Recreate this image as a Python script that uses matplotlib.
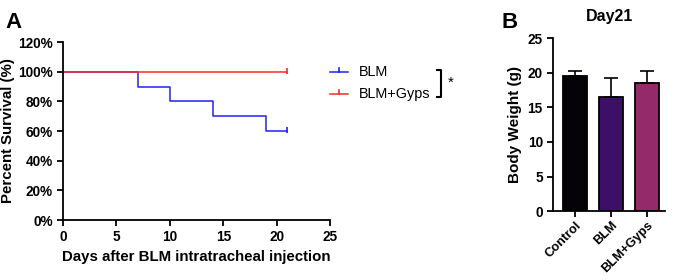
import matplotlib
matplotlib.use("Agg")
import matplotlib.pyplot as plt
from matplotlib.ticker import FuncFormatter

plt.rcParams['font.family'] = ['Liberation Sans', 'DejaVu Sans']

# survival data (Kaplan-Meier steps)
blm_days = [0, 7, 10, 14, 19, 21]
blm_surv = [100, 90, 80, 70, 60, 60]
gyps_days = [0, 21]
gyps_surv = [100, 100]

# body weight at day 21
groups = ['Control', 'BLM', 'BLM+Gyps']
weight = [19.5, 16.5, 18.5]
weight_err = [0.7, 2.8, 1.8]
bar_colors = ['#050308', '#3d0f66', '#952a6a']

fig = plt.figure(figsize=(6.78, 2.8), dpi=100)

# panel A
ax = fig.add_axes([0.093, 0.214, 0.394, 0.636])
ax.step(blm_days, blm_surv, where='post', color='#1f1fff', lw=1.1)
ax.step(gyps_days, gyps_surv, where='post', color='#ff2a2a', lw=1.1)
ax.plot([blm_days[-1]], [blm_surv[-1] + 0.6], marker='|', ms=4, color='#1f1fff', mew=1.2)
ax.plot([gyps_days[-1]], [gyps_surv[-1] + 0.6], marker='|', ms=4, color='#ff2a2a', mew=1.2)
ax.set_xlim(0, 25)
ax.set_ylim(0, 120)
ax.set_xticks([0, 5, 10, 15, 20, 25])
ax.set_yticks(range(0, 121, 20))
ax.yaxis.set_major_formatter(FuncFormatter(lambda v, p: f'{int(v)}%'))
for s in ['top', 'right']:
    ax.spines[s].set_visible(False)
for s in ['left', 'bottom']:
    ax.spines[s].set_linewidth(1.3)
ax.tick_params(width=1.3, length=4, labelsize=9.8)
for lab in ax.get_xticklabels() + ax.get_yticklabels():
    lab.set_fontweight('bold')
ax.set_xlabel('Days after BLM intratracheal injection', fontsize=10.8, fontweight='bold')
ax.set_ylabel('Percent Survival (%)', fontsize=10.8, fontweight='bold', labelpad=2)
fig.text(0.008, 0.9, 'A', fontsize=16, fontweight='bold')

# legend drawn in figure coords
for yy, col, lab in [(0.742, '#1f1fff', 'BLM'), (0.664, '#ff2a2a', 'BLM+Gyps')]:
    fig.add_artist(plt.Line2D([0.487, 0.513], [yy, yy], color=col, lw=1.1))
    fig.add_artist(plt.Line2D([0.5, 0.5], [yy, yy + 0.014], color=col, lw=1.2))
    fig.text(0.53, yy, lab, fontsize=10.4, va='center')
fig.add_artist(plt.Line2D([0.644, 0.651, 0.651, 0.644], [0.75, 0.75, 0.655, 0.655], color='black', lw=1.5))
fig.text(0.661, 0.705, '*', fontsize=10.6, va='center')

# panel B
bx = fig.add_axes([0.816, 0.246, 0.165, 0.618])
x = range(len(groups))
bx.bar(x, weight, width=0.68, color=bar_colors, edgecolor='black', lw=1.3)
bx.errorbar(x, weight, yerr=[[0] * 3, weight_err], fmt='none', ecolor='black',
            elinewidth=1.2, capsize=5, capthick=1.2)
bx.set_xlim(-0.6, 2.5)
bx.set_ylim(0, 25)
bx.set_yticks(range(0, 26, 5))
bx.set_xticks(list(x))
bx.set_xticklabels(groups, rotation=45, ha='right', rotation_mode='anchor')
for s in ['top', 'right']:
    bx.spines[s].set_visible(False)
for s in ['left', 'bottom']:
    bx.spines[s].set_linewidth(1.3)
bx.tick_params(width=1.3, length=4, labelsize=9.8)
bx.tick_params(axis='x', labelsize=9.2, pad=2)
for lab in bx.get_xticklabels() + bx.get_yticklabels():
    lab.set_fontweight('bold')
bx.set_ylabel('Body Weight (g)', fontsize=11, fontweight='bold')
bx.set_title('Day21', fontsize=11.5, fontweight='bold', pad=12)
fig.text(0.74, 0.9, 'B', fontsize=16, fontweight='bold')

fig.savefig('out.png', dpi=100)
